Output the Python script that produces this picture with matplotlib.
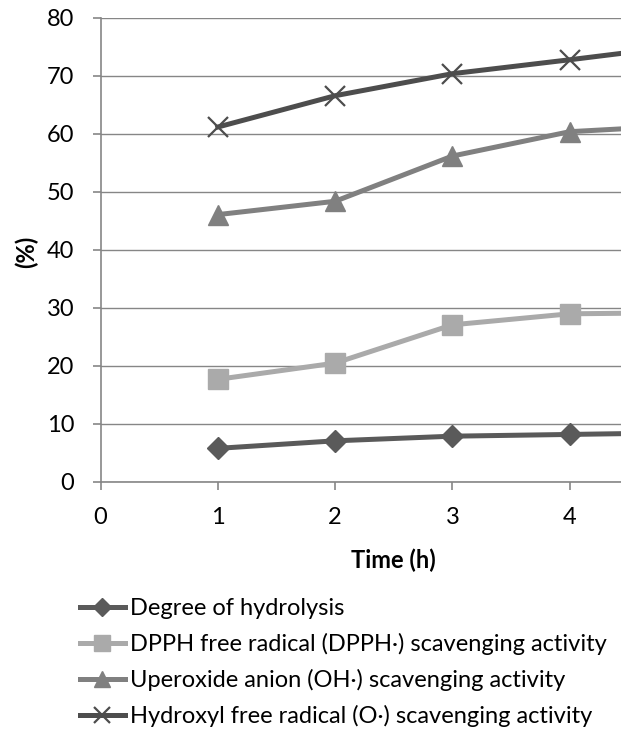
import matplotlib
matplotlib.use("Agg")
import matplotlib.pyplot as plt

plt.rcParams['font.family'] = ['Lato', 'DejaVu Sans']

# time points (h); the chart is cut off on the right, so x=5 sits just out of view
hours = [1, 2, 3, 4, 5]
hydrolysis = [5.8, 7.1, 7.9, 8.2, 8.5]
dpph = [17.7, 20.5, 27.1, 29.0, 29.2]
superoxide = [46.1, 48.4, 56.2, 60.4, 61.5]
hydroxyl = [61.2, 66.6, 70.4, 72.8, 75.3]

labels = [
    "Degree of hydrolysis",
    "DPPH free radical (DPPH·) scavenging activity",
    "Uperoxide anion (OH·) scavenging activity",
    "Hydroxyl free radical (O·) scavenging activity",
]

W, H = 621, 732
fig = plt.figure(figsize=(W / 100, H / 100), dpi=100)
left, right, top, bottom = 100.5, 621, 18, 482
ax = fig.add_axes([left / W, 1 - bottom / H, (right - left) / W, (bottom - top) / H])

grid_col = '#868686'
ax.plot(hours, hydrolysis, color='#5a5a5a', lw=3.6, marker='D', ms=11,
        mec='#5a5a5a', mfc='#5a5a5a', label=labels[0], zorder=3)
ax.plot(hours, dpph, color='#aaaaaa', lw=3.6, marker='s', ms=14,
        mec='#aaaaaa', mfc='#aaaaaa', label=labels[1], zorder=3)
ax.plot(hours, superoxide, color='#808080', lw=3.6, marker='^', ms=15,
        mec='#808080', mfc='#808080', label=labels[2], zorder=3)
ax.plot(hours, hydroxyl, color='#4d4d4d', lw=3.6, marker='x', ms=14,
        mew=1.6, mec='#4d4d4d', label=labels[3], zorder=3)

unit = 117.3
ax.set_xlim(0, (right - left) / unit)
ax.set_ylim(0, 80)
ax.set_xticks([0, 1, 2, 3, 4])
ax.set_yticks(range(0, 81, 10))
ax.yaxis.grid(True, color=grid_col, lw=1.0)
ax.set_axisbelow(True)

for s in ['top', 'right']:
    ax.spines[s].set_visible(False)
for s in ['left', 'bottom']:
    ax.spines[s].set_color(grid_col)
    ax.spines[s].set_linewidth(1.2)
ax.tick_params(axis='both', colors=grid_col, length=6, width=1.2, labelsize=17,
               labelcolor='black', direction='out')
ax.tick_params(axis='x', pad=12)
ax.tick_params(axis='y', pad=13)

ax.set_xlabel('Time (h)', fontsize=17, fontweight='bold')
ax.xaxis.set_label_coords(2.5 * unit / (right - left), -(560 - bottom) / (bottom - top), transform=ax.transAxes)
ax.xaxis.label.set_verticalalignment('center')
ax.set_ylabel('(%)', fontsize=17, fontweight='bold')
ax.yaxis.set_label_coords(-(left - 26) / (right - left), (bottom - 252) / (bottom - top), transform=ax.transAxes)
ax.yaxis.label.set_verticalalignment('center')

leg = fig.legend(loc='upper left', bbox_to_anchor=(80 / W, 1 - 598 / H), frameon=False,
                 fontsize=17, handlelength=1.9, handletextpad=0.22, labelspacing=0.59,
                 borderpad=0, borderaxespad=0, markerscale=0.8)

fig.savefig('out.png', dpi=100)
